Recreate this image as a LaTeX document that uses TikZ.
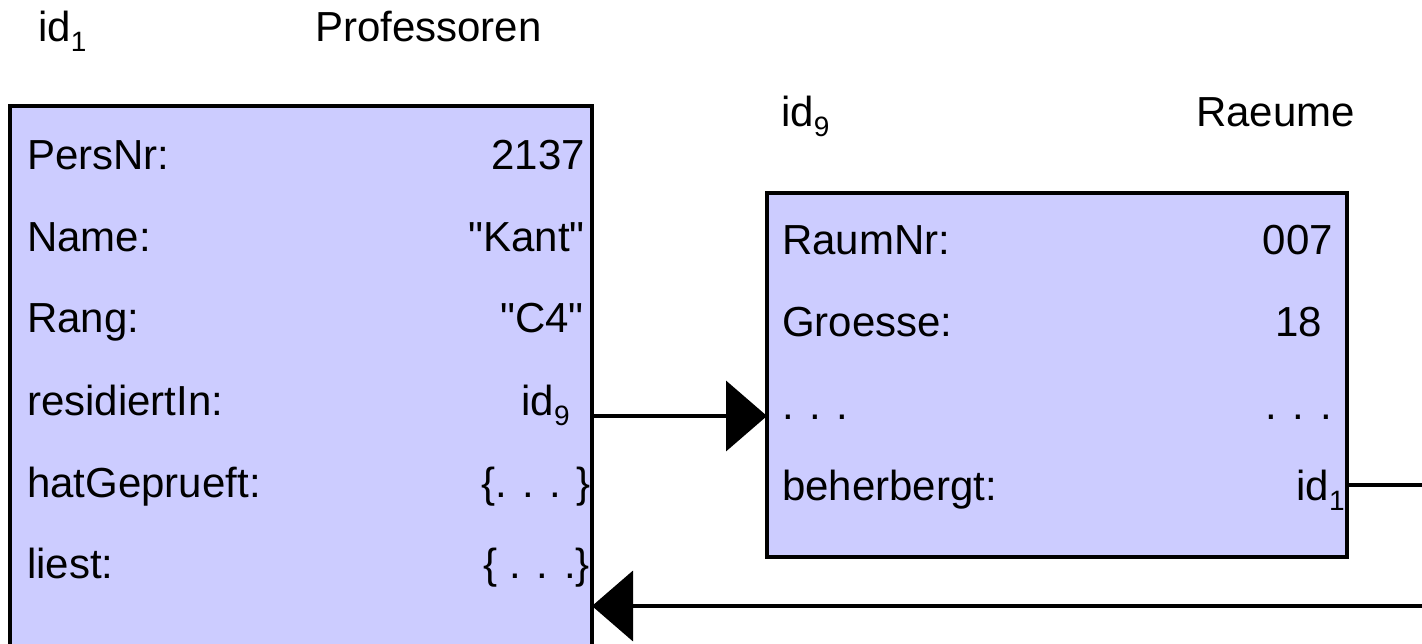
\documentclass[tikz,border=0pt]{standalone}
\usepackage{fontspec}
\setmainfont{Liberation Sans}[Ligatures=TeXOff]
\usetikzlibrary{arrows.meta}
\newcommand{\idx}[1]{\raisebox{-10pt}{\fontsize{28}{28}\selectfont #1}}
\newcommand{\qt}[1]{"#1"}
\begin{document}
\begin{tikzpicture}[x=1pt,y=-1pt,
  objbox/.style={draw=black, fill=objfill, line width=4pt, outer sep=0pt, inner sep=0pt, anchor=north west},
  lbl/.style={inner sep=0pt, anchor=base west, font=\fontsize{42}{50}\selectfont},
  val/.style={inner sep=0pt, anchor=base east, font=\fontsize{42}{50}\selectfont},
  wire/.style={line width=4pt},
  link/.style={wire, -{Triangle[length=41pt,width=70pt]}}]
\definecolor{objfill}{HTML}{CCCCFF}
\useasboundingbox (0,0) rectangle (1422,644);
\clip (0,0) rectangle (1422,644);

% object headers
\node[lbl] (hid1) at (38,42) {id\idx{1}};
\node[lbl] (hprof) at (315,42) {Professoren};
\node[lbl] (hid9) at (781,127) {id\idx{9}};
\node[val] (hraum) at (1355,127) {Raeume};

% object boxes
\node[objbox, minimum width=582pt, minimum height=600pt] (prof) at (10,106) {};
\node[objbox, minimum width=580pt, minimum height=364pt] (raum) at (767,193) {};

% attributes of the professor object
\node[lbl] (pa1) at (27,170) {PersNr:};
\node[val] (pv1) at (585,170) {2137};
\node[lbl] (pa2) at (27,252) {Name:};
\node[val] (pv2) at (585,252) {\qt{Kant}};
\node[lbl] (pa3) at (27,333) {Rang:};
\node[val] (pv3) at (584,333) {\qt{C4}};
\node[lbl] (pa4) at (27,415) {residiertIn:};
\node[val] (pv4) at (570,415) {id\idx{9}};
\node[lbl] (pa5) at (27,497) {hatGeprueft:};
\node[val] (pv5) at (591,497) {\{. . . \}};
\node[lbl] (pa6) at (27,578) {liest:};
\node[val] (pv6) at (590,578) {\{ . . .\}};

% attributes of the room object
\node[lbl] (ra1) at (782,255) {RaumNr:};
\node[val] (rv1) at (1333,255) {007};
\node[lbl] (ra2) at (782,337) {Groesse:};
\node[val] (rv2) at (1322,337) {18};
\node[lbl] (ra3) at (782,419) {. . .};
\node[val] (rv3) at (1332,419) {. . .};
\node[lbl] (ra4) at (782,500) {beherbergt:};
\node[val] (rv4) at (1345,500) {id\idx{1}};

% references between the objects
\coordinate (yres) at (0,416);
\coordinate (outA) at (1422,485);
\coordinate (inB) at (1422,606);
\draw[link] (prof.east |- yres) -- (raum.west |- yres);
\draw[wire] (raum.east |- outA) -- (outA);
\draw[link] (inB) -- (prof.east |- inB);
\end{tikzpicture}
\end{document}
